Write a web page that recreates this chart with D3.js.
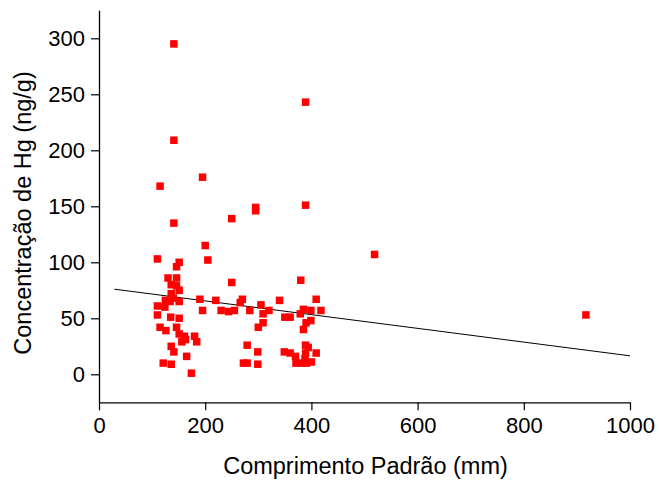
<!DOCTYPE html>
<html>
<head>
<meta charset="utf-8">
<script src="https://cdn.jsdelivr.net/npm/d3@7"></script>
<style>
  html, body { margin: 0; padding: 0; background: #fff; }
  svg { display: block; font-family: "Liberation Sans", Arial, Helvetica, sans-serif; }
</style>
</head>
<body>
<svg id="chart" width="659" height="480"></svg>
<script>
// Data
const lengthMm = [
  110, 115, 141, 141, 141, 195, 200, 205, 151, 146, 130, 146, 136, 146, 151, 136,
  125, 140, 151, 134, 110, 124, 110, 135, 151, 115, 126, 146, 151, 161, 180, 156,
  163, 184, 136, 141, 165, 121, 136, 174, 190, 195,
  220, 230, 244, 255, 266, 270, 284, 250, 250, 295, 295, 305, 320, 309, 309, 300,
  279, 299, 299, 272, 279,
  389, 389, 380, 340, 350, 360, 379, 385, 399, 409, 418, 390, 399, 385, 349, 360,
  370, 389, 394, 389, 409, 371, 382, 391, 400, 388,
  519, 917
];
const hgConc = [
  103, 168, 295, 209, 135, 176, 115, 102, 100, 96, 86, 86, 80, 79, 75, 72,
  66, 68, 65, 65, 61, 60, 53, 51, 50, 42, 39, 42, 36, 34, 34, 29,
  31, 29, 25, 20, 16, 10, 9, 1, 67, 57,
  66, 57, 56, 57, 64, 67, 57, 139, 82, 149, 146, 62, 57, 54, 46, 42,
  26, 20, 9, 10, 10,
  243, 151, 84, 66, 51, 51, 54, 58, 57, 67, 57, 46, 48, 40, 20, 19,
  16, 26, 24, 19, 19, 10, 10, 10, 11, 14,
  107, 53
];
// Linear fit line endpoints (x, y)
const fitX = [29, 1000];
const fitY = [76, 16.5];

const xMajorTicks = [0, 200, 400, 600, 800, 1000];
const xMinorTicks = [100, 300, 500, 700, 900];
const yMajorTicks = [0, 50, 100, 150, 200, 250, 300];
const yMinorTicks = [-25, 25, 75, 125, 175, 225, 275, 325];

const xTitle = "Comprimento Padrão (mm)";
const yTitle = "Concentração de Hg (ng/g)";

const svg = d3.select("#chart");
const x = d3.scaleLinear().domain([0, 1000]).range([99, 630]);
const y = d3.scaleLinear().domain([-25, 325]).range([402.3, 10.3]);

// Axes
const gx = svg.append("g").attr("transform", `translate(0,${y(-25)})`);
gx.call(d3.axisBottom(x).tickValues(xMinorTicks).tickSize(4).tickSizeOuter(0).tickFormat(""));
gx.call(d3.axisBottom(x).tickValues(xMajorTicks).tickSize(8).tickSizeOuter(0).tickPadding(7).tickFormat(d3.format("d")));

const gy = svg.append("g").attr("transform", `translate(${x(0)},0)`);
gy.call(d3.axisLeft(y).tickValues(yMinorTicks).tickSize(4).tickSizeOuter(0).tickFormat(""));
gy.call(d3.axisLeft(y).tickValues(yMajorTicks).tickSize(8).tickSizeOuter(0).tickPadding(6).tickFormat(d3.format("d")));

svg.selectAll(".domain").attr("stroke", "#000").attr("stroke-width", 1.3);
svg.selectAll(".tick line").attr("stroke", "#000").attr("stroke-width", 1.2);
svg.selectAll(".tick text").attr("fill", "#000").style("font-size", "22px");

// Fit line
svg.append("line")
  .attr("x1", x(fitX[0])).attr("y1", y(fitY[0]))
  .attr("x2", x(fitX[1])).attr("y2", y(fitY[1]))
  .attr("stroke", "#000").attr("stroke-width", 1);

// Points
const pts = lengthMm.map((v, i) => ({ x: v, y: hgConc[i] }));
const s = 7.5;
svg.append("g").selectAll("rect").data(pts).join("rect")
  .attr("x", d => x(d.x) - s / 2)
  .attr("y", d => y(d.y) - s / 2)
  .attr("width", s).attr("height", s)
  .attr("fill", "#ff0000");

// Titles
svg.append("text")
  .attr("x", (x(0) + x(1000)) / 2 + 1).attr("y", 474)
  .attr("text-anchor", "middle")
  .style("font-size", "23.5px")
  .text(xTitle);

svg.append("text")
  .attr("transform", `translate(31,213) rotate(-90)`)
  .attr("text-anchor", "middle")
  .style("font-size", "23.5px")
  .text(yTitle);
</script>
</body>
</html>
